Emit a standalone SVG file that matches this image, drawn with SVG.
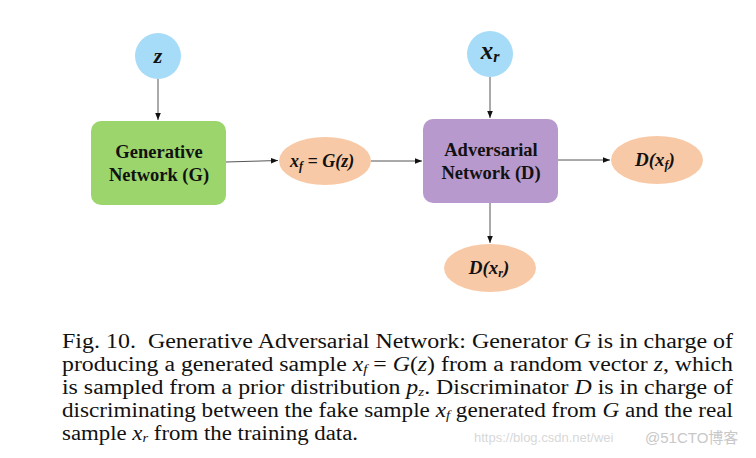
<svg xmlns="http://www.w3.org/2000/svg" width="756" height="458" viewBox="0 0 756 458">
<defs>
<marker id="ah" viewBox="0 0 10 10" refX="10" refY="5" markerWidth="7" markerHeight="7" markerUnits="userSpaceOnUse" orient="auto">
<path d="M0,1 L10,5 L0,9 Z" fill="#111"/>
</marker>
<style>
.lbl{font-family:"Liberation Serif","Times New Roman",serif;font-weight:bold;font-size:18.5px;fill:#111;text-anchor:middle}
.math{font-family:"Liberation Serif","Times New Roman",serif;font-weight:bold;font-style:italic;fill:#111;text-anchor:middle}
.conn{stroke:#555;stroke-width:1;fill:none;marker-end:url(#ah)}
.cap{font-family:"Liberation Serif","Times New Roman",serif;font-size:20.5px;fill:#111;white-space:pre}
.it{font-style:italic}
.in{fill:#a6dcf7}
.out{fill:#f8c9a6}
</style>
</defs>
<rect width="756" height="458" fill="#fff"/>
<g id="connectors">
<line class="conn" x1="158" y1="79" x2="158" y2="120"/>
<line class="conn" x1="226" y1="162" x2="278" y2="160.5"/>
<line class="conn" x1="371" y1="161" x2="422" y2="161"/>
<line class="conn" x1="490" y1="77" x2="490" y2="118"/>
<line class="conn" x1="558" y1="160" x2="610" y2="160"/>
<line class="conn" x1="490" y1="203" x2="490" y2="243"/>
</g>
<g id="node-z">
<circle class="in" cx="158" cy="56" r="23"/>
<text class="math" x="158" y="63" font-size="22">z</text>
</g>
<g id="node-generator">
<rect x="91" y="121" width="135" height="84" rx="10" fill="#9bd56b"/>
<text class="lbl" x="159" y="158">Generative</text>
<text class="lbl" x="159" y="181">Network (G)</text>
</g>
<g id="node-xf">
<ellipse class="out" cx="325" cy="161" rx="46" ry="24"/>
<text class="math" x="322" y="167" font-size="18">x<tspan font-size="12" dy="3">f</tspan><tspan dy="-3"> = G(z)</tspan></text>
</g>
<g id="node-xr">
<circle class="in" cx="490" cy="54" r="23"/>
<text class="math" x="490" y="59" font-size="25">x<tspan font-size="16" dy="3">r</tspan></text>
</g>
<g id="node-discriminator">
<rect x="423" y="119" width="135" height="84" rx="10" fill="#b899cd"/>
<text class="lbl" x="491" y="156">Adversarial</text>
<text class="lbl" x="491" y="179">Network (D)</text>
</g>
<g id="node-dxf">
<ellipse class="out" cx="657" cy="160" rx="46" ry="24"/>
<text class="math" x="655" y="166" font-size="19">D(x<tspan font-size="12" dy="3">f</tspan><tspan dy="-3">)</tspan></text>
</g>
<g id="node-dxr">
<ellipse class="out" cx="490" cy="268" rx="46" ry="24"/>
<text class="math" x="489" y="274" font-size="19">D(x<tspan font-size="12" dy="3">r</tspan><tspan dy="-3">)</tspan></text>
</g>
<g id="caption">
<text class="cap" x="62" y="348" textLength="671" lengthAdjust="spacingAndGlyphs">Fig. 10.  Generative Adversarial Network: Generator <tspan class="it">G</tspan> is in charge of</text>
<text class="cap" x="62" y="371" textLength="671" lengthAdjust="spacingAndGlyphs">producing a generated sample <tspan class="it">x</tspan><tspan class="it" font-size="13" dy="2">f</tspan><tspan dy="-2"> = </tspan><tspan class="it">G</tspan>(<tspan class="it">z</tspan>) from a random vector <tspan class="it">z</tspan>, which</text>
<text class="cap" x="62" y="394" textLength="671" lengthAdjust="spacingAndGlyphs">is sampled from a prior distribution <tspan class="it">p</tspan><tspan class="it" font-size="13" dy="2">z</tspan><tspan dy="-2">. Discriminator </tspan><tspan class="it">D</tspan> is in charge of</text>
<text class="cap" x="62" y="417" textLength="671" lengthAdjust="spacingAndGlyphs">discriminating between the fake sample <tspan class="it">x</tspan><tspan class="it" font-size="13" dy="2">f</tspan><tspan dy="-2"> generated from </tspan><tspan class="it">G</tspan> and the real</text>
<text class="cap" x="62" y="440" textLength="296" lengthAdjust="spacingAndGlyphs">sample <tspan class="it">x</tspan><tspan class="it" font-size="13" dy="2">r</tspan><tspan dy="-2"> from the training data.</tspan></text>
</g>
<g id="watermark">
<text x="474" y="442" font-family="'Liberation Sans',sans-serif" font-size="13" fill="#d8d8d8">https://blog.csdn.net/wei</text>
<text x="645" y="443" font-family="'Liberation Sans','Noto Sans CJK SC',sans-serif" font-size="15" fill="#c8c8c8">@51CTO博客</text>
</g>
</svg>
